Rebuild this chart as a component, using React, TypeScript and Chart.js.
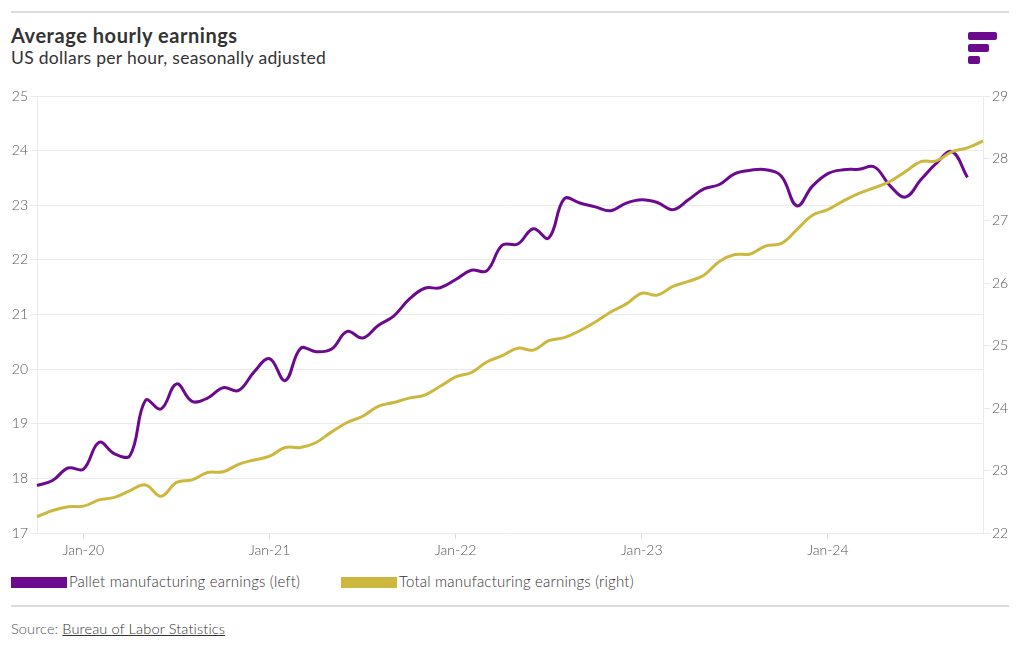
import React, { useEffect, useRef } from "react";
import { Chart, registerables } from "chart.js";
Chart.register(...registerables);

const months = [
  "Oct-19", "Nov-19", "Dec-19",
  "Jan-20", "Feb-20", "Mar-20", "Apr-20", "May-20", "Jun-20", "Jul-20", "Aug-20", "Sep-20", "Oct-20", "Nov-20", "Dec-20",
  "Jan-21", "Feb-21", "Mar-21", "Apr-21", "May-21", "Jun-21", "Jul-21", "Aug-21", "Sep-21", "Oct-21", "Nov-21", "Dec-21",
  "Jan-22", "Feb-22", "Mar-22", "Apr-22", "May-22", "Jun-22", "Jul-22", "Aug-22", "Sep-22", "Oct-22", "Nov-22", "Dec-22",
  "Jan-23", "Feb-23", "Mar-23", "Apr-23", "May-23", "Jun-23", "Jul-23", "Aug-23", "Sep-23", "Oct-23", "Nov-23", "Dec-23",
  "Jan-24", "Feb-24", "Mar-24", "Apr-24", "May-24", "Jun-24", "Jul-24", "Aug-24", "Sep-24", "Oct-24", "Nov-24",
];

const palletEarnings = [
  17.87, 17.96, 18.19, 18.17, 18.66, 18.45, 18.42, 19.43, 19.27, 19.73, 19.41, 19.47, 19.66, 19.61, 19.95,
  20.19, 19.79, 20.38, 20.32, 20.37, 20.69, 20.57, 20.8, 20.97, 21.28, 21.48, 21.49, 21.64, 21.81, 21.8,
  22.27, 22.29, 22.57, 22.4, 23.12, 23.04, 22.97, 22.9, 23.04, 23.1, 23.05, 22.92, 23.1, 23.3, 23.38,
  23.58, 23.64, 23.65, 23.53, 22.99, 23.35, 23.58, 23.65, 23.66, 23.7, 23.36, 23.15, 23.47, 23.77, 23.98, 23.51,
];

const totalEarnings = [
  22.26, 22.36, 22.42, 22.43, 22.53, 22.57, 22.68, 22.77, 22.59, 22.81, 22.85, 22.97, 22.98, 23.1, 23.17,
  23.23, 23.37, 23.37, 23.45, 23.62, 23.77, 23.87, 24.03, 24.09, 24.16, 24.21, 24.35, 24.5, 24.57, 24.74,
  24.84, 24.96, 24.93, 25.08, 25.13, 25.24, 25.38, 25.54, 25.67, 25.84, 25.81, 25.95, 26.03, 26.13, 26.35,
  26.46, 26.47, 26.6, 26.64, 26.86, 27.09, 27.18, 27.32, 27.44, 27.53, 27.63, 27.79, 27.95, 27.96, 28.11, 28.17, 28.28,
];

const leftRange = [17, 25];
const rightRange = [22, 29];

const seriesNames = ["Pallet manufacturing earnings (left)", "Total manufacturing earnings (right)"];

const PURPLE = "#6c0a8f";
const YELLOW = "#cdb83f";
const GRID = "#ebebeb";
const TICK_TXT = "#555555";
const FONT = "Lato, 'Open Sans', sans-serif";

function ChartCanvas() {
  const ref = useRef<HTMLCanvasElement | null>(null);
  useEffect(() => {
    if (!ref.current) return;
    const isJan = (i: number) => (months[i] || "").startsWith("Jan");
    const chart = new Chart(ref.current, {
      type: "line",
      data: {
        labels: months,
        datasets: [
          {
            label: seriesNames[1],
            data: totalEarnings,
            yAxisID: "yRight",
            borderColor: YELLOW,
            backgroundColor: YELLOW,
            borderWidth: 3,
            pointRadius: 0,
            tension: 0.4,
          },
          {
            label: seriesNames[0],
            data: palletEarnings,
            yAxisID: "yLeft",
            borderColor: PURPLE,
            backgroundColor: PURPLE,
            borderWidth: 3,
            pointRadius: 0,
            tension: 0.4,
          },
        ],
      },
      options: {
        animation: false,
        responsive: false,
        maintainAspectRatio: false,
        devicePixelRatio: 1,
        layout: { padding: { top: 16, left: 0, right: 0, bottom: 0 } },
        plugins: { legend: { display: false }, tooltip: { enabled: false } },
        scales: {
          x: {
            type: "category",
            offset: false,
            border: { display: false },
            grid: {
              drawOnChartArea: false,
              drawTicks: true,
              tickLength: 6,
              color: (ctx: any) => (isJan(ctx.index) ? "#dddddd" : "rgba(0,0,0,0)"),
            },
            ticks: {
              autoSkip: false,
              maxRotation: 0,
              minRotation: 0,
              padding: 3,
              color: TICK_TXT,
              font: { family: FONT, size: 14, weight: "300" as any },
              callback: (_v: any, i: number) => (isJan(i) ? months[i] : ""),
            },
            afterFit: (s: any) => {
              s.height = 27;
            },
          },
          yLeft: {
            type: "linear",
            position: "left",
            min: leftRange[0],
            max: leftRange[1],
            border: { display: true, color: GRID },
            grid: { color: GRID, tickLength: 7 },
            ticks: {
              stepSize: 1,
              padding: 2,
              color: TICK_TXT,
              font: { family: FONT, size: 14, weight: "300" as any },
            },
            afterFit: (s: any) => {
              s.width = 37;
            },
          },
          yRight: {
            type: "linear",
            position: "right",
            min: rightRange[0],
            max: rightRange[1],
            border: { display: true, color: GRID },
            grid: { drawOnChartArea: false, color: GRID, tickLength: 7 },
            ticks: {
              stepSize: 1,
              padding: 2,
              color: TICK_TXT,
              font: { family: FONT, size: 14, weight: "300" as any },
            },
            afterFit: (s: any) => {
              s.width = 37;
            },
          },
        },
      },
    });
    return () => chart.destroy();
  }, []);
  return (
    <canvas
      ref={ref}
      width={1020}
      height={480}
      style={{ position: "absolute", left: 0, top: 80, width: 1020, height: 480 }}
    />
  );
}

export default function App() {
  const text: React.CSSProperties = { position: "absolute", fontFamily: FONT, whiteSpace: "nowrap", margin: 0 };
  return (
    <div
      style={{
        position: "absolute",
        left: 0,
        top: 0,
        width: 1020,
        height: 650,
        background: "#ffffff",
        overflow: "hidden",
        fontFamily: FONT,
      }}
    >
      <div style={{ position: "absolute", left: 11, top: 11, width: 998, height: 2, background: "#dcdcdc" }} />
      <div
        style={{
          ...text,
          left: 11,
          top: 23,
          fontSize: 20,
          fontWeight: 700,
          color: "#333333",
          lineHeight: "24px",
          letterSpacing: "0.55px",
        }}
      >
        Average hourly earnings
      </div>
      <div
        style={{
          ...text,
          left: 11,
          top: 47,
          fontSize: 17.5,
          fontWeight: 400,
          color: "#333333",
          lineHeight: "22px",
          letterSpacing: "0.3px",
        }}
      >
        US dollars per hour, seasonally adjusted
      </div>
      <div style={{ position: "absolute", left: 968, top: 32, width: 29, height: 8, borderRadius: 2, background: PURPLE }} />
      <div style={{ position: "absolute", left: 968, top: 44, width: 21, height: 8, borderRadius: 2, background: PURPLE }} />
      <div style={{ position: "absolute", left: 968, top: 56, width: 12, height: 8, borderRadius: 2, background: PURPLE }} />

      <ChartCanvas />

      <div style={{ position: "absolute", left: 11, top: 577, width: 56, height: 11, background: PURPLE }} />
      <div
        style={{
          ...text,
          left: 69,
          top: 572,
          fontSize: 15,
          color: "#333333",
          lineHeight: "18px",
          fontWeight: 300,
          letterSpacing: "0.2px",
        }}
      >
        {seriesNames[0]}
      </div>
      <div style={{ position: "absolute", left: 341, top: 577, width: 56, height: 11, background: YELLOW }} />
      <div
        style={{
          ...text,
          left: 399,
          top: 572,
          fontSize: 15,
          color: "#333333",
          lineHeight: "18px",
          fontWeight: 300,
          letterSpacing: "0.2px",
        }}
      >
        {seriesNames[1]}
      </div>

      <div style={{ position: "absolute", left: 11, top: 605, width: 998, height: 2, background: "#dcdcdc" }} />
      <div
        style={{
          ...text,
          left: 11,
          top: 620,
          fontSize: 14.5,
          color: "#555555",
          lineHeight: "18px",
          fontWeight: 300,
          letterSpacing: "0.15px",
        }}
      >
        Source: <span style={{ textDecoration: "underline", color: "#333333" }}>Bureau of Labor Statistics</span>
      </div>
    </div>
  );
}
